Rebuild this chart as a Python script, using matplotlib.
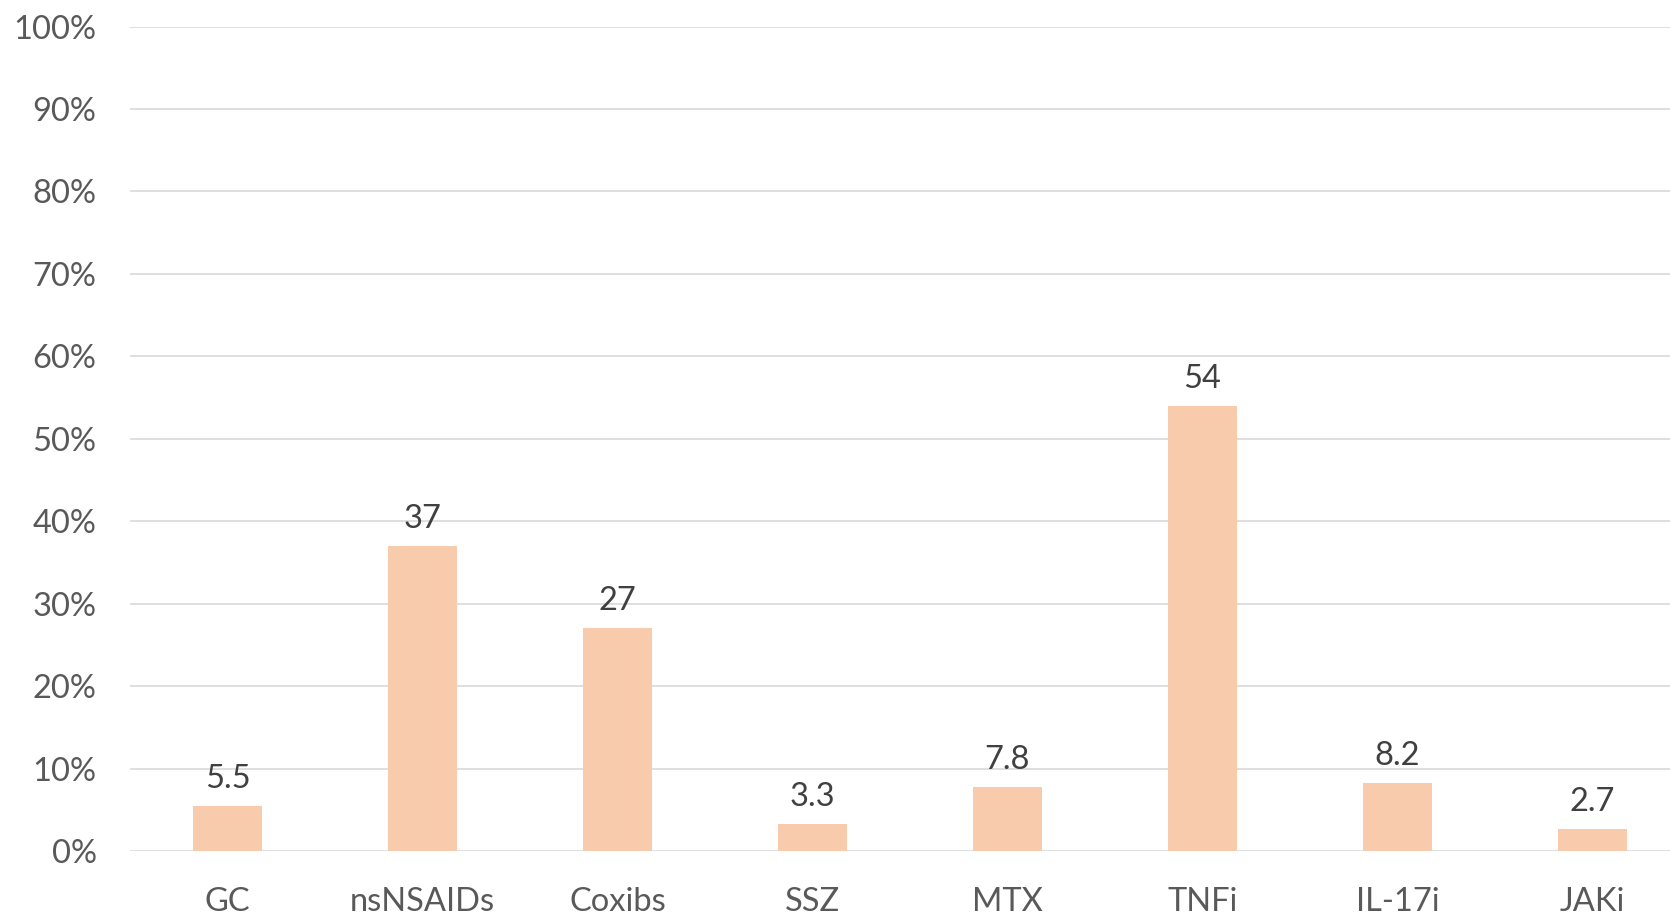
import numpy as np
import matplotlib
matplotlib.use("Agg")
import matplotlib.pyplot as plt
from matplotlib.ticker import PercentFormatter

# ---- data ----
drugs = ["GC", "nsNSAIDs", "Coxibs", "SSZ", "MTX", "TNFi", "IL-17i", "JAKi"]
pct = [5.5, 37, 27, 3.3, 7.8, 54, 8.2, 2.7]
yticks = np.arange(0, 101, 10)

plt.rcParams['font.family'] = ['Lato', 'DejaVu Sans']

fig = plt.figure(figsize=(16.7, 9.15), dpi=100)
ax = fig.add_axes([0.0778, 0.0699, 0.9342, 0.9011])

x = np.arange(len(drugs))
ax.bar(x, pct, width=0.35, color='#F8CBAD', zorder=3)

# value labels above bars
for xi, v in zip(x, pct):
    ax.annotate(f"{v:g}", (xi, v), xytext=(0, 13), textcoords='offset points',
                ha='center', va='baseline', fontsize=23.5, color='#404040')

ax.set_xlim(-0.5, len(drugs) - 0.5)
ax.set_ylim(0, 100)
ax.set_yticks(yticks)
ax.yaxis.set_major_formatter(PercentFormatter(decimals=0))
ax.set_xticks(x)
ax.set_xticklabels(drugs)

ax.tick_params(axis='y', length=0, pad=24, labelsize=23.5, labelcolor='#595959')
ax.tick_params(axis='x', length=0, pad=26, labelsize=23.5, labelcolor='#595959')

ax.grid(axis='y', color='#d9d9d9', linewidth=1.2, zorder=0)
for s in ax.spines.values():
    s.set_visible(False)

fig.savefig("out.png", dpi=100)
